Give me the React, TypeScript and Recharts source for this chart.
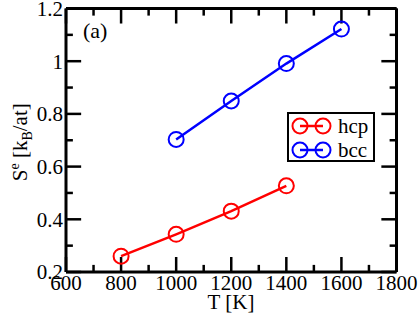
import { Legend, Line, LineChart, XAxis, YAxis, Label } from 'recharts';

const hcpT = [800, 1000, 1200, 1400];
const hcpS = [0.26, 0.343, 0.431, 0.527];
const bccT = [1000, 1200, 1400, 1600];
const bccS = [0.703, 0.849, 0.991, 1.122];

const xMinor = [600, 700, 800, 900, 1000, 1100, 1200, 1300, 1400, 1500, 1600, 1700, 1800];
const xMajor = [600, 800, 1000, 1200, 1400, 1600, 1800];
const yMinor = [0.2, 0.3, 0.4, 0.5, 0.6, 0.7, 0.8, 0.9, 1.0, 1.1, 1.2];
const yMajor = [0.2, 0.4, 0.6, 0.8, 1.0, 1.2];

const hcpData = hcpT.map((t, i) => ({ t, s: hcpS[i] }));
const bccData = bccT.map((t, i) => ({ t, s: bccS[i] }));

const FONT = "'Liberation Serif', serif";
const RED = '#ff0000';
const BLUE = '#0000ff';
const txt = { fontFamily: FONT, fontSize: 21, fill: '#000' };
const axisLine = { stroke: '#000', strokeWidth: 3 };

const X0 = 600;
const X1 = 1800;
const Y0 = 0.2;
const Y1 = 1.2;

const fmtY = (v: number) => (Math.abs(v - 1) < 1e-6 ? '1' : Number(v).toFixed(1));
const isMajorX = (v: number) => xMajor.includes(v);
const isMajorY = (v: number) => yMajor.some((m) => Math.abs(m - v) < 1e-6);

// inward tick stubs (about 15px major / 7px minor) in axis units
const vLen = (major: boolean) => (major ? 0.057 : 0.027);
const hLen = (major: boolean) => (major ? 55 : 25);

const tickMarks: { id: string; pts: { t: number; s: number }[] }[] = [
  ...xMinor.flatMap((t) => {
    const l = vLen(isMajorX(t));
    return [
      { id: `b${t}`, pts: [{ t, s: Y0 }, { t, s: Y0 + l }] },
      { id: `t${t}`, pts: [{ t, s: Y1 }, { t, s: Y1 - l }] },
    ];
  }),
  ...yMinor.flatMap((s) => {
    const l = hLen(isMajorY(s));
    return [
      { id: `l${s}`, pts: [{ t: X0, s }, { t: X0 + l, s }] },
      { id: `r${s}`, pts: [{ t: X1, s }, { t: X1 - l, s }] },
    ];
  }),
];

function XLabel({ x, y, payload }: any) {
  if (!isMajorX(Number(payload.value))) return <g />;
  return (
    <text x={Number(x)} y={Number(y) + 18} textAnchor="middle" style={txt}>
      {payload.value}
    </text>
  );
}

function YLabel({ x, y, payload }: any) {
  const v = Number(payload.value);
  if (!isMajorY(v)) return <g />;
  return (
    <text x={Number(x) - 3} y={Number(y)} dy="0.35em" textAnchor="end" style={txt}>
      {fmtY(v)}
    </text>
  );
}

function LegendBox() {
  const rows = [
    { name: 'hcp', color: RED, y: 12 },
    { name: 'bcc', color: BLUE, y: 36 },
  ];
  return (
    <div style={{ width: 88, height: 50, border: '2px solid #000', boxSizing: 'border-box', background: '#fff' }}>
      <svg width={84} height={46} style={{ display: 'block', overflow: 'visible' }}>
        {rows.map((r) => (
          <g key={r.name}>
            <line x1={11} y1={r.y} x2={34} y2={r.y} stroke={r.color} strokeWidth={2.5} />
            <circle cx={11} cy={r.y} r={7.5} fill="none" stroke={r.color} strokeWidth={2} />
            <circle cx={34} cy={r.y} r={7.5} fill="none" stroke={r.color} strokeWidth={2} />
            <text x={49} y={r.y} dy="0.33em" style={txt}>
              {r.name}
            </text>
          </g>
        ))}
      </svg>
    </div>
  );
}

function YTitle({ viewBox }: any) {
  const cy = (viewBox?.y ?? 8) + (viewBox?.height ?? 264) / 2 + 2;
  return (
    <text transform={`translate(27,${cy}) rotate(-90)`} textAnchor="middle" style={txt}>
      <tspan>S</tspan>
      <tspan dy={-8} style={{ fontSize: 14 }}>e</tspan>
      <tspan dy={8}> [k</tspan>
      <tspan dy={5} style={{ fontSize: 14 }}>B</tspan>
      <tspan dy={-5}>/at]</tspan>
    </text>
  );
}

export default function App() {
  return (
    <div style={{ position: 'absolute', left: 0, top: 0, width: 420, height: 316, background: '#fff', fontFamily: FONT }}>
      <LineChart width={420} height={316} margin={{ top: 7.5, right: 22.5, bottom: 43, left: 65 }}>
        <XAxis
          xAxisId="bottom"
          type="number"
          dataKey="t"
          domain={[X0, X1]}
          ticks={xMinor}
          interval={0}
          height={1}
          tickSize={0}
          tickMargin={0}
          tickLine={false}
          axisLine={axisLine}
          tick={(p: any) => <XLabel {...p} />}
        >
          <Label
            content={() => (
              <text x={231} y={309} textAnchor="middle" style={txt}>
                T [K]
              </text>
            )}
          />
        </XAxis>
        <XAxis xAxisId="top" orientation="top" type="number" domain={[X0, X1]} height={1} axisLine={axisLine} tick={false} tickLine={false} />
        <YAxis
          yAxisId="left"
          type="number"
          domain={[Y0, Y1]}
          ticks={yMinor}
          interval={0}
          width={1}
          tickSize={0}
          tickMargin={0}
          tickLine={false}
          axisLine={axisLine}
          tick={(p: any) => <YLabel {...p} />}
        >
          <Label content={(p: any) => <YTitle viewBox={p.viewBox} />} />
        </YAxis>
        <YAxis yAxisId="right" orientation="right" type="number" domain={[Y0, Y1]} width={1} axisLine={axisLine} tick={false} tickLine={false} />
        {tickMarks.map((m) => (
          <Line
            key={m.id}
            xAxisId="bottom"
            yAxisId="left"
            data={m.pts}
            dataKey="s"
            type="linear"
            stroke="#000"
            strokeWidth={2.5}
            dot={false}
            activeDot={false}
            legendType="none"
            isAnimationActive={false}
          />
        ))}
        <Line
          xAxisId="bottom"
          yAxisId="left"
          data={hcpData}
          dataKey="s"
          name="hcp"
          stroke={RED}
          strokeWidth={2.5}
          dot={{ r: 7.5, fill: 'none', stroke: RED, strokeWidth: 2 }}
          isAnimationActive={false}
        />
        <Line
          xAxisId="bottom"
          yAxisId="left"
          data={bccData}
          dataKey="s"
          name="bcc"
          stroke={BLUE}
          strokeWidth={2.5}
          dot={{ r: 7.5, fill: 'none', stroke: BLUE, strokeWidth: 2 }}
          isAnimationActive={false}
        />
        <Legend
          layout="horizontal"
          align="center"
          verticalAlign="middle"
          wrapperStyle={{ left: 287, top: 112, width: 88 }}
          content={() => <LegendBox />}
        />
      </LineChart>
      <div style={{ position: 'absolute', left: 83, top: 17, fontSize: 22, lineHeight: '28px' }}>(a)</div>
    </div>
  );
}
